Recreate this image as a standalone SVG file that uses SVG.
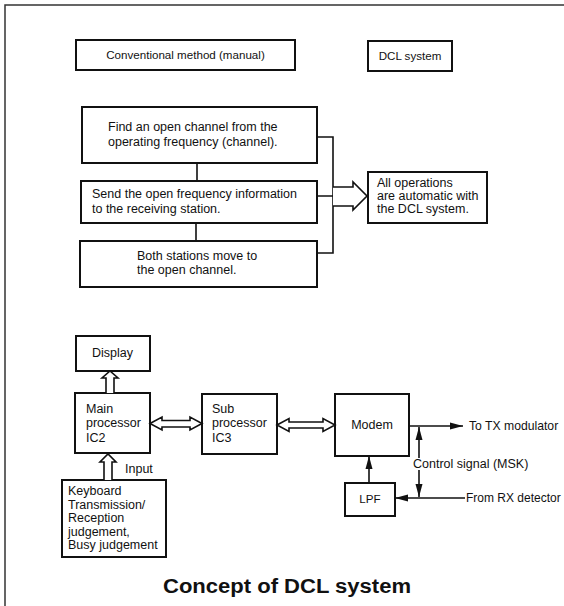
<svg xmlns="http://www.w3.org/2000/svg" width="564" height="606" viewBox="0 0 564 606">
<style>
.box{fill:#fff;stroke:#111;stroke-width:2}
.ln{fill:none;stroke:#111;stroke-width:1.6}
.hol{fill:#fff;stroke:#111;stroke-width:1.6;stroke-linejoin:miter}
text{font-family:"Liberation Sans",Arial,sans-serif;font-size:12.5px;fill:#111}
.sm{font-size:11.6px}
.title{font-size:20px;font-weight:bold}
</style>
<defs>
<marker id="ah" markerUnits="userSpaceOnUse" markerWidth="14" markerHeight="10" refX="13" refY="5" orient="auto">
<path d="M0,1.5 L13,5 L0,8.5 Z" fill="#111"/>
</marker>
</defs>
<rect width="564" height="606" fill="#fff"/>
<g id="frame">
<path d="M564,5 H5 V606" fill="none" stroke="#333" stroke-width="1.5"/>
</g>
<g id="conventional">
<rect class="box" x="76" y="40" width="219" height="30"/>
<text class="sm" x="185.5" y="59" text-anchor="middle">Conventional method (manual)</text>
</g>
<g id="dcl">
<rect class="box" x="368" y="41" width="84" height="30"/>
<text class="sm" x="410" y="60" text-anchor="middle">DCL system</text>
</g>
<g id="step1">
<rect class="box" x="82" y="107" width="235" height="56"/>
<text x="108" y="131">Find an open channel from the</text>
<text x="108" y="146">operating frequency (channel).</text>
</g>
<g id="step2">
<rect class="box" x="81" y="181" width="236" height="42"/>
<text x="92" y="198">Send the open frequency information</text>
<text x="92" y="213">to the receiving station.</text>
</g>
<g id="step3">
<rect class="box" x="80" y="241" width="237" height="46"/>
<text x="137" y="260">Both stations move to</text>
<text x="137" y="274">the open channel.</text>
</g>
<g id="auto">
<rect class="box" x="368" y="172" width="119" height="51"/>
<text x="377" y="187">All operations</text>
<text x="377" y="200">are automatic with</text>
<text x="377" y="213">the DCL system.</text>
</g>
<g id="display">
<rect class="box" x="76" y="336" width="74" height="35"/>
<text x="92" y="357">Display</text>
</g>
<g id="main">
<rect class="box" x="75" y="393" width="75" height="60"/>
<text x="86" y="413">Main</text>
<text x="86" y="427">processor</text>
<text x="86" y="442">IC2</text>
</g>
<g id="sub">
<rect class="box" x="202" y="394" width="75" height="60"/>
<text x="212" y="413">Sub</text>
<text x="212" y="427">processor</text>
<text x="212" y="442">IC3</text>
</g>
<g id="modem">
<rect class="box" x="335" y="394" width="74" height="62"/>
<text x="372" y="429" text-anchor="middle">Modem</text>
</g>
<g id="lpf">
<rect class="box" x="345" y="483" width="50" height="33"/>
<text class="sm" x="370" y="503" text-anchor="middle">LPF</text>
</g>
<g id="keyboard">
<rect class="box" x="62" y="480" width="104" height="77"/>
<text x="68" y="495">Keyboard</text>
<text x="68" y="508.5">Transmission/</text>
<text x="68" y="522">Reception</text>
<text x="68" y="535.5">judgement,</text>
<text x="68" y="549">Busy judgement</text>
</g>
<g id="connectors">
<path class="ln" d="M197,163 V181 M196,223 V241"/>
<path class="ln" d="M317,137 H333 V253 H317 M317,196 H333"/>
<path class="hol" d="M333,187 H353 V182 L367,196 L353,210 V206 H333"/>
<path class="hol" d="M106,393 V378 H102 L110,371 L118,378 H114 V393"/>
<path class="hol" d="M104,480 V462 H100 L108,454 L116,462 H112 V480"/>
<path class="hol" d="M150,423.5 L162,417 V420.5 H190 V417 L202,423.5 L190,430 V427 H162 V430 Z"/>
<path class="hol" d="M277,425 L289,418.5 V422 H323 V418.5 L335,425 L323,431.5 V428 H289 V431.5 Z"/>
<path class="ln" d="M409,426 H463" marker-end="url(#ah)"/>
<path class="ln" d="M419,458 V427" marker-end="url(#ah)"/>
<path class="ln" d="M419,470 V497" marker-end="url(#ah)"/>
<path class="ln" d="M465,498 H395" marker-end="url(#ah)"/>
<path class="ln" d="M369,483 V456" marker-end="url(#ah)"/>
</g>
<g id="labels">
<text x="469" y="430" style="font-size:12.2px">To TX modulator</text>
<text x="413" y="468">Control signal (MSK)</text>
<text x="466" y="502" style="font-size:12px">From RX detector</text>
<text x="125" y="473">Input</text>
<text class="title" x="163" y="593" textLength="248" lengthAdjust="spacingAndGlyphs">Concept of DCL system</text>
</g>
</svg>
